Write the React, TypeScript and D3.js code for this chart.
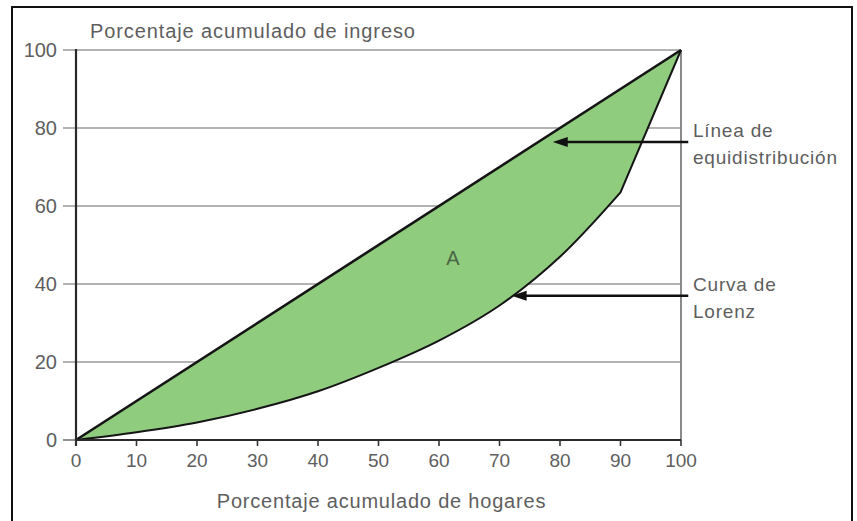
import React from "react";
import * as d3 from "d3";

const W = 857;
const H = 521;

// Data
const xTicks = [0, 10, 20, 30, 40, 50, 60, 70, 80, 90, 100];
const yTicks = [0, 20, 40, 60, 80, 100];
const equalityX = [0, 100];
const equalityY = [0, 100];
const lorenzX = [0, 10, 20, 30, 40, 50, 60, 70, 80, 90];
const lorenzY = [0, 2, 4.5, 8, 12.5, 18.5, 25.5, 34.5, 47, 63.5];
const lorenzEnd = [100, 100];
const yTitle = "Porcentaje acumulado de ingreso";
const xTitle = "Porcentaje acumulado de hogares";
const areaLabel = "A";
const annotations = [
  { lines: ["Línea de", "equidistribución"], tipX: 78.8, tipY: 76.4 },
  { lines: ["Curva de", "Lorenz"], tipX: 72, tipY: 37 },
];

const FONT = "'Liberation Sans', Arial, Helvetica, sans-serif";
const TXT = "#5e5e5e";

export default function App() {
  const x = d3.scaleLinear().domain([0, 100]).range([76, 681]);
  const y = d3.scaleLinear().domain([0, 100]).range([440, 50]);

  const lorenzPts: [number, number][] = lorenzX.map((v, i) => [v, lorenzY[i]]);
  const curve = d3
    .line<[number, number]>()
    .x((d) => x(d[0]))
    .y((d) => y(d[1]))
    .curve(d3.curveCatmullRom.alpha(0.5))(lorenzPts) as string;
  const lorenzPath = `${curve} L${x(lorenzEnd[0])},${y(lorenzEnd[1])}`;
  const fillPath = `${lorenzPath} Z`;
  const eqPath = d3
    .line<number>()
    .x((d) => x(d))
    .y((_, i) => y(equalityY[i]))(equalityX) as string;

  const tailX = x(101.2);

  return (
    <svg
      width={W}
      height={H}
      style={{ position: "absolute", left: 0, top: 0, background: "#fff" }}
      fontFamily={FONT}
    >
      <rect x={0} y={0} width={W} height={H} fill="#fff" />
      {/* outer frame */}
      <rect x={12} y={7} width={840} height={530} fill="none" stroke="#111" strokeWidth={2} />

      {/* horizontal gridlines */}
      {yTicks.filter((t) => t > 0).map((t) => (
        <line key={t} x1={x(0) - 13} x2={x(100)} y1={y(t)} y2={y(t)} stroke="#9a9a9a" strokeWidth={1.6} />
      ))}
      <line x1={x(0) - 13} x2={x(0)} y1={y(0)} y2={y(0)} stroke="#777" strokeWidth={1.6} />
      {/* right border of plot */}
      <line x1={x(100)} x2={x(100)} y1={y(100)} y2={y(0)} stroke="#8a8a8a" strokeWidth={2} />

      {/* filled area */}
      <path d={fillPath} fill="#90cc7e" stroke="none" />
      <path d={eqPath} fill="none" stroke="#151515" strokeWidth={2.6} />
      <path d={lorenzPath} fill="none" stroke="#151515" strokeWidth={2} strokeLinejoin="round" />

      {/* axes */}
      <line x1={x(0)} x2={x(0)} y1={y(100) - 1} y2={y(0) + 6} stroke="#2a2a2a" strokeWidth={2.2} />
      <line x1={x(0)} x2={x(100)} y1={y(0)} y2={y(0)} stroke="#2a2a2a" strokeWidth={2.2} />
      {xTicks.map((t) => (
        <g key={t}>
          <line x1={x(t)} x2={x(t)} y1={y(0)} y2={y(0) + 6} stroke="#333" strokeWidth={1.6} />
          <text x={x(t)} y={467} textAnchor="middle" fontSize={19} fill={TXT}>
            {t}
          </text>
        </g>
      ))}
      {yTicks.map((t) => (
        <text key={t} x={57} y={y(t) + 7} textAnchor="end" fontSize={20} fill={TXT}>
          {t}
        </text>
      ))}

      {/* titles */}
      <text x={90} y={38} fontSize={20} fill={TXT} letterSpacing={0.9}>
        {yTitle}
      </text>
      <text x={(x(0) + x(100)) / 2 + 3} y={508} textAnchor="middle" fontSize={20} fill={TXT} letterSpacing={0.8}>
        {xTitle}
      </text>

      {/* area label */}
      <text x={453} y={265} textAnchor="middle" fontSize={20} fill="#4b6644">
        {areaLabel}
      </text>

      {/* annotations */}
      {annotations.map((a, i) => {
        const tx = x(a.tipX);
        const ty = y(a.tipY);
        return (
          <g key={i}>
            <line x1={tailX} x2={tx + 10} y1={ty} y2={ty} stroke="#111" strokeWidth={2.6} />
            <path d={`M${tx},${ty} L${tx + 15},${ty - 5} L${tx + 15},${ty + 5} Z`} fill="#111" />
            {a.lines.map((l, j) => (
              <text key={j} x={693} y={ty - 5 + j * 27} fontSize={19} fill={TXT} letterSpacing={0.8}>
                {l}
              </text>
            ))}
          </g>
        );
      })}
    </svg>
  );
}
